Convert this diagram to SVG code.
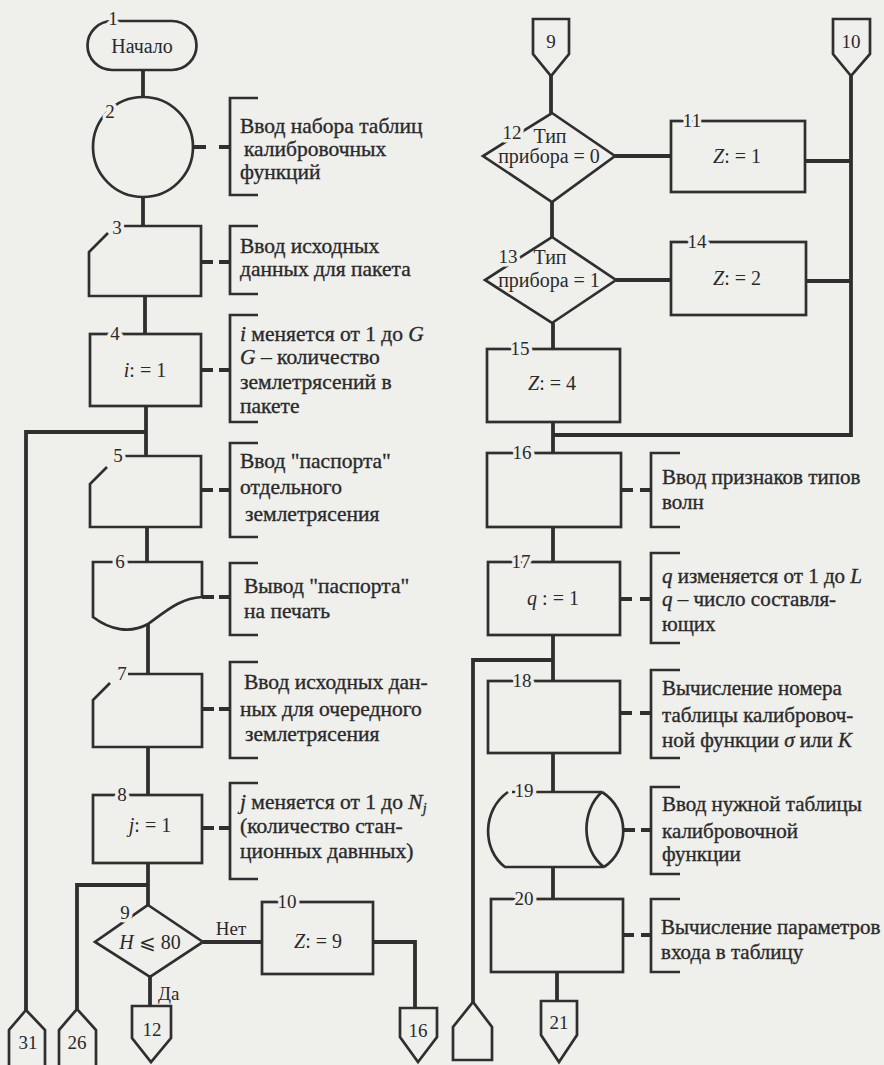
<svg xmlns="http://www.w3.org/2000/svg" width="884" height="1065" viewBox="0 0 884 1065" font-family="'Liberation Serif', 'DejaVu Serif', serif">
<style>
.bg{fill:#efefec}
.shape{fill:none;stroke:#2f2f2f;stroke-width:2.7;stroke-linejoin:miter}
.link{fill:none;stroke:#2f2f2f;stroke-width:3.8}
.dash{fill:none;stroke:#2f2f2f;stroke-width:4}
.br{fill:none;stroke:#2f2f2f;stroke-width:2.7}
text{font-family:'Liberation Serif','DejaVu Serif',serif;fill:#2a2a2a}
.note{font-size:21.5px;stroke:#2a2a2a;stroke-width:0.35}
.rn{font-size:21px}
.num{font-size:19px;text-anchor:middle;stroke:#efefec;stroke-width:7;paint-order:stroke;stroke-linejoin:round}
.op{font-size:20px;text-anchor:middle}
.dt{font-size:19px;text-anchor:middle}
.dm{font-size:20px;text-anchor:middle}
.st{font-size:19px}
.it{font-style:italic}
</style>
<rect class="bg" x="0" y="0" width="884" height="1065"/>

<!-- flow lines -->
<g id="connectors">
  <path class="link" d="M143,70 V97"/>
  <path class="link" d="M143,197 V226"/>
  <path class="link" d="M145,296 V334"/>
  <path class="link" d="M146,406 V456"/>
  <path class="link" d="M26,1010 V432 H146"/>
  <path class="link" d="M147,527 V562"/>
  <path class="link" d="M148,624 V674"/>
  <path class="link" d="M148,747 V795"/>
  <path class="link" d="M148,863 V905"/>
  <path class="link" d="M77,1009 V885 H148"/>
  <path class="link" d="M203,942 H262"/>
  <path class="link" d="M373,942 H415 V1008"/>
  <path class="link" d="M150,977 V1006"/>
  <!-- right column -->
  <path class="link" d="M551,76 V113"/>
  <path class="link" d="M615,156 H671"/>
  <path class="link" d="M805,161 H851"/>
  <path class="link" d="M851,76 V435 H553"/>
  <path class="link" d="M552,202 V237"/>
  <path class="link" d="M616,280 H671"/>
  <path class="link" d="M806,281 H851"/>
  <path class="link" d="M553,323 V349"/>
  <path class="link" d="M553,422 V453"/>
  <path class="link" d="M553,527 V562"/>
  <path class="link" d="M553,635 V681"/>
  <path class="link" d="M473,1002 V660 H553"/>
  <path class="link" d="M553,753 V792"/>
  <path class="link" d="M553,867 V899"/>
  <path class="link" d="M557,972 V1001"/>
  <!-- comment links -->
  <path class="dash" d="M193,147 h13 M219,147 H230"/>
  <path class="dash" d="M201,262 h12 M219,262 H230"/>
  <path class="dash" d="M201,370 h12 M219,370 H230"/>
  <path class="dash" d="M201,490 h12 M219,490 H230"/>
  <path class="dash" d="M202,597 h12 M219,597 H230"/>
  <path class="dash" d="M202,709 h12 M219,709 H230"/>
  <path class="dash" d="M202,828 h12 M219,828 H230"/>
  <path class="dash" d="M621,490 h12 M640,490 H651"/>
  <path class="dash" d="M620,599 h12 M640,599 H651"/>
  <path class="dash" d="M620,713 h12 M640,713 H651"/>
  <path class="dash" d="M624,830 h11 M641,830 H651"/>
  <path class="dash" d="M623,935 h11 M641,935 H651"/>
</g>

<!-- 1: start -->
<g id="n1">
  <rect class="shape" x="87.5" y="21" width="109" height="49" rx="24.5"/>
  <text class="num" x="113" y="25">1</text>
  <text class="op" x="142" y="53">Начало</text>
</g>

<!-- 2: read calibration table set -->
<g id="n2">
  <circle class="shape" cx="143" cy="147" r="50"/>
  <text class="num" x="110" y="118">2</text>
  <path class="br" d="M258,98 H230 V195 H258"/>
  <text class="note" x="240" y="133">Ввод набора таблиц</text>
  <text class="note" x="244" y="156">калибровочных</text>
  <text class="note" x="240" y="179">функций</text>
</g>

<!-- 3: manual input, batch data -->
<g id="n3">
  <path class="shape" d="M108,233 L89,252 V296 H201 V226 H124"/>
  <text class="num" x="117" y="234">3</text>
  <path class="br" d="M258,226 H230 V294 H258"/>
  <text class="note" x="240" y="253">Ввод исходных</text>
  <text class="note" x="240" y="276">данных для пакета</text>
</g>

<!-- 4: i := 1 -->
<g id="n4">
  <rect class="shape" x="90" y="334" width="111" height="72"/>
  <text class="num" x="115" y="340">4</text>
  <text class="op" x="145" y="377"><tspan class="it">i</tspan>: = 1</text>
  <path class="br" d="M258,315 H230 V422 H258"/>
  <text class="note" x="240" y="341"><tspan class="it">i</tspan> меняется от 1 до <tspan class="it">G</tspan></text>
  <text class="note" x="240" y="364"><tspan class="it">G</tspan> – количество</text>
  <text class="note" x="240" y="389">землетрясений в</text>
  <text class="note" x="240" y="413">пакете</text>
</g>

<!-- 5: earthquake passport input -->
<g id="n5">
  <path class="shape" d="M107,467 L90,484 V527 H201 V456 H125"/>
  <text class="num" x="118" y="462">5</text>
  <path class="br" d="M258,443 H230 V537 H258"/>
  <text class="note" x="240" y="468">Ввод "паспорта"</text>
  <text class="note" x="240" y="494">отдельного</text>
  <text class="note" x="245" y="521">землетрясения</text>
</g>

<!-- 6: print passport -->
<g id="n6">
  <path class="shape" d="M93,617 V562 H202 V597 C180,598 165,612 148,624 C130,634 110,630 93,617 Z"/>
  <text class="num" x="120" y="568">6</text>
  <path class="br" d="M258,563 H230 V635 H258"/>
  <text class="note" x="244" y="593">Вывод "паспорта"</text>
  <text class="note" x="244" y="618">на печать</text>
</g>

<!-- 7: next earthquake input -->
<g id="n7">
  <path class="shape" d="M110,683 L93,700 V747 H202 V674 H128"/>
  <text class="num" x="122" y="680">7</text>
  <path class="br" d="M258,662 H230 V758 H258"/>
  <text class="note" x="244" y="689">Ввод исходных дан-</text>
  <text class="note" x="240" y="716">ных для очередного</text>
  <text class="note" x="245" y="741">землетрясения</text>
</g>

<!-- 8: j := 1 -->
<g id="n8">
  <rect class="shape" x="93" y="795" width="109" height="68"/>
  <text class="num" x="122" y="801">8</text>
  <text class="op" x="150" y="832"><tspan class="it">j</tspan>: = 1</text>
  <path class="br" d="M258,783 H230 V879 H258"/>
  <text class="note" x="240" y="809"><tspan class="it">j</tspan> меняется от 1 до <tspan class="it">N</tspan><tspan class="it" font-size="14" dy="4">j</tspan></text>
  <text class="note" x="240" y="833">(количество стан-</text>
  <text class="note" x="240" y="858">ционных давнных)</text>
</g>

<!-- 9: depth test -->
<g id="n9">
  <polygon class="shape" points="148,905 203,942 150,977 95,942"/>
  <text class="num" x="125" y="919">9</text>
  <text class="op" x="150" y="949"><tspan class="it">H</tspan> ⩽ 80</text>
  <text class="dt" x="231" y="935">Нет</text>
  <text class="st" x="158" y="1000">Да</text>
</g>

<!-- 10: Z := 9 -->
<g id="n10">
  <rect class="shape" x="262" y="902" width="111" height="72"/>
  <text class="num" x="287" y="908">10</text>
  <text class="op" x="318" y="948"><tspan class="it">Z</tspan>: = 9</text>
</g>

<!-- off-page connectors, left column -->
<g id="c31">
  <path class="shape" d="M9,1065 V1030 L26,1010 L45,1030 V1065"/>
  <text class="dt" x="28" y="1049">31</text>
</g>
<g id="c26">
  <path class="shape" d="M59,1065 V1030 L77,1009 L96,1030 V1065"/>
  <text class="dt" x="77" y="1049">26</text>
</g>
<g id="c12">
  <polygon class="shape" points="132,1006 171,1006 171,1038 151,1062 132,1038"/>
  <text class="dt" x="152" y="1036">12</text>
</g>
<g id="c16">
  <polygon class="shape" points="400,1008 437,1008 437,1037 418,1062 400,1037"/>
  <text class="dt" x="418" y="1037">16</text>
</g>

<!-- off-page connectors, right column top -->
<g id="c9">
  <polygon class="shape" points="533,19 569,19 569,54 551,76 533,54"/>
  <text class="dt" x="551" y="48">9</text>
</g>
<g id="c10">
  <polygon class="shape" points="833,19 870,19 870,54 851,76 833,54"/>
  <text class="dt" x="851" y="48">10</text>
</g>

<!-- 12: instrument type 0 -->
<g id="n12">
  <polygon class="shape" points="552,113 615,156 552,202 483,156"/>
  <text class="num" x="512" y="139">12</text>
  <text class="dm" x="550" y="143">Тип</text>
  <text class="dm" x="549" y="163">прибора = 0</text>
</g>

<!-- 11: Z := 1 -->
<g id="n11">
  <rect class="shape" x="671" y="121" width="134" height="71"/>
  <text class="num" x="692" y="127">11</text>
  <text class="op" x="737" y="163"><tspan class="it">Z</tspan>: = 1</text>
</g>

<!-- 13: instrument type 1 -->
<g id="n13">
  <polygon class="shape" points="552,237 616,280 552,323 485,280"/>
  <text class="num" x="508" y="263">13</text>
  <text class="dm" x="550" y="264">Тип</text>
  <text class="dm" x="549" y="287">прибора = 1</text>
</g>

<!-- 14: Z := 2 -->
<g id="n14">
  <rect class="shape" x="671" y="242" width="135" height="73"/>
  <text class="num" x="697" y="248">14</text>
  <text class="op" x="737" y="285"><tspan class="it">Z</tspan>: = 2</text>
</g>

<!-- 15: Z := 4 -->
<g id="n15">
  <rect class="shape" x="487" y="349" width="133" height="73"/>
  <text class="num" x="520" y="355">15</text>
  <text class="op" x="552" y="390"><tspan class="it">Z</tspan>: = 4</text>
</g>

<!-- 16: wave type flags -->
<g id="n16">
  <rect class="shape" x="487" y="453" width="134" height="74"/>
  <text class="num" x="522" y="459">16</text>
  <path class="br" d="M680,453 H651 V527 H680"/>
  <text class="note rn" x="662" y="484">Ввод признаков типов</text>
  <text class="note rn" x="662" y="509">волн</text>
</g>

<!-- 17: q := 1 -->
<g id="n17">
  <rect class="shape" x="488" y="562" width="132" height="73"/>
  <text class="num" x="521" y="568">17</text>
  <text class="op" x="553" y="605"><tspan class="it">q</tspan> : = 1</text>
  <path class="br" d="M680,553 H651 V643 H680"/>
  <text class="note rn" x="662" y="583"><tspan class="it">q</tspan> изменяется от 1 до <tspan class="it">L</tspan></text>
  <text class="note rn" x="662" y="606"><tspan class="it">q</tspan> – число составля-</text>
  <text class="note rn" x="662" y="631">ющих</text>
</g>

<!-- 18: table number -->
<g id="n18">
  <rect class="shape" x="488" y="681" width="132" height="72"/>
  <text class="num" x="522" y="687">18</text>
  <path class="br" d="M680,670 H651 V758 H680"/>
  <text class="note rn" x="662" y="695">Вычисление номера</text>
  <text class="note rn" x="662" y="722">таблицы калибровоч-</text>
  <text class="note rn" x="662" y="747">ной функции <tspan class="it">σ</tspan> или <tspan class="it">K</tspan></text>
</g>

<!-- 19: stored table read -->
<g id="n19">
  <path class="shape" d="M508,792 C482,810 482,850 505,867 H604 M602,792 H512 M602,792 C581,810 581,850 604,867 M602,792 C630,810 630,850 604,867"/>
  <text class="num" x="524" y="797">19</text>
  <path class="br" d="M680,787 H651 V874 H680"/>
  <text class="note rn" x="662" y="811">Ввод нужной таблицы</text>
  <text class="note rn" x="662" y="838">калибровочной</text>
  <text class="note rn" x="662" y="861">функции</text>
</g>

<!-- 20: table entry parameters -->
<g id="n20">
  <rect class="shape" x="491" y="899" width="132" height="73"/>
  <text class="num" x="524" y="905">20</text>
  <path class="br" d="M680,899 H651 V972 H680"/>
  <text class="note rn" x="661" y="934" font-size="20.6">Вычисление параметров</text>
  <text class="note rn" x="661" y="959">входа в таблицу</text>
</g>

<!-- off-page connectors, right column bottom -->
<g id="c21">
  <polygon class="shape" points="541,1001 577,1001 577,1035 559,1062 541,1035"/>
  <text class="dt" x="559" y="1029">21</text>
</g>
<g id="cin">
  <polygon class="shape" points="453,1060 453,1027 473,1002 492,1027 492,1060"/>
</g>
</svg>
